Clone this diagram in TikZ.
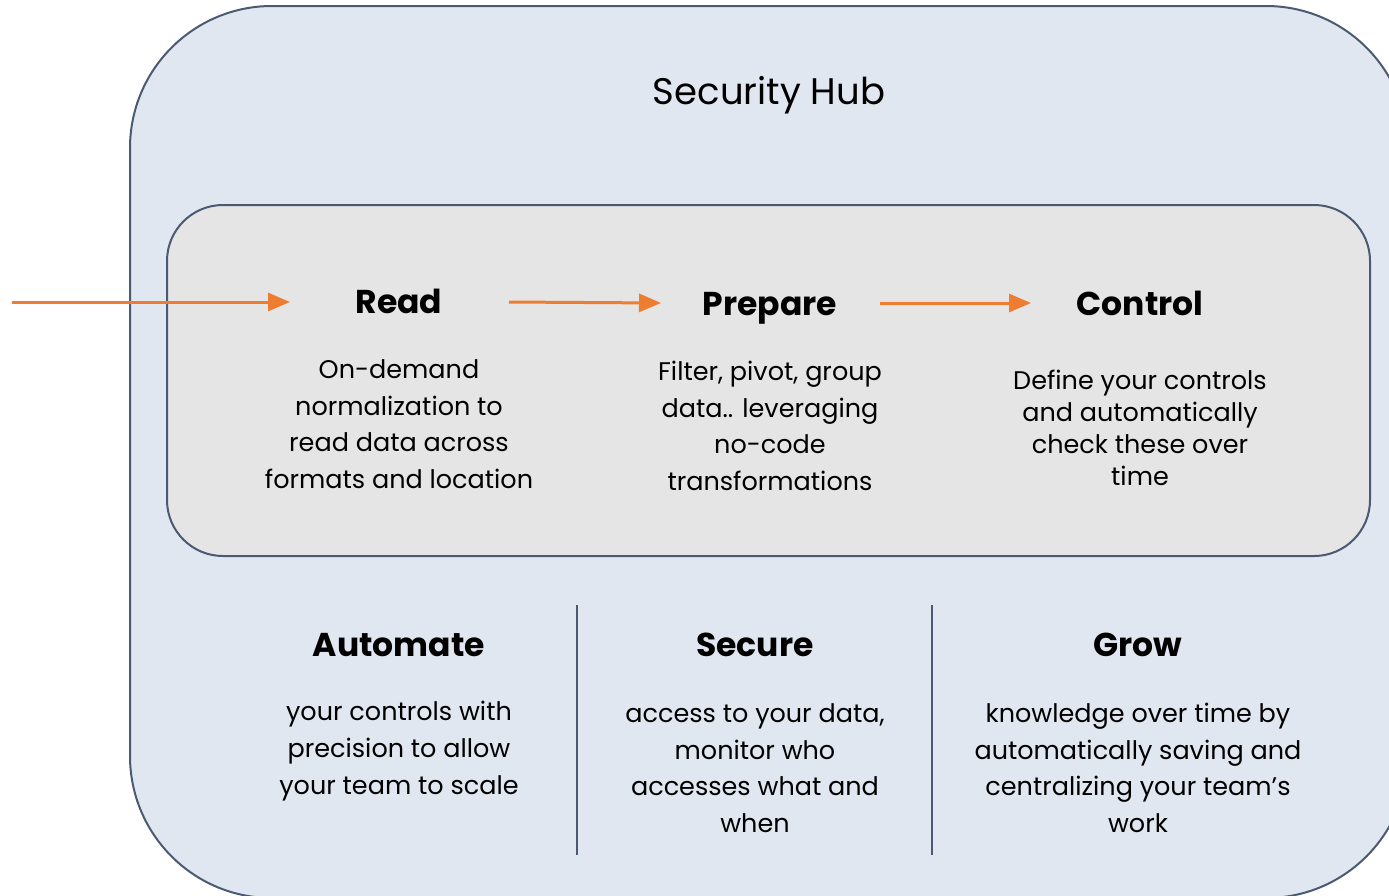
\documentclass[tikz,border=0pt]{standalone}
\usepackage{fontspec}
\setmainfont{Poppins}
\usetikzlibrary{arrows.meta}
\definecolor{hubfill}{HTML}{E1E7F0}
\definecolor{hubline}{HTML}{4A5A72}
\definecolor{innerfill}{HTML}{E5E5E5}
\definecolor{flowor}{HTML}{EE7D31}
\tikzset{
  hubbox/.style={draw=hubline, line width=2pt, fill=hubfill},
  innerbox/.style={draw=hubline, line width=2pt, fill=innerfill},
  sepline/.style={draw=hubline, line width=2pt},
  flow/.style={draw=flowor, line width=3pt, -{Triangle[length=22pt,width=18pt]}},
  head/.style={font=\fontsize{33}{38}\selectfont\bfseries, inner sep=0pt, anchor=base},
  body/.style={font=\fontsize{25.5}{36.6}\selectfont, align=center, inner sep=0pt},
  bodytight/.style={font=\fontsize{25.5}{32}\selectfont, align=center, inner sep=0pt},
  title/.style={font=\fontsize{37}{42}\selectfont, inner sep=0pt, anchor=base}
}
\begin{document}
\begin{tikzpicture}[x=1pt,y=-1pt]
\useasboundingbox (0,0) rectangle (1389,895);
\begin{scope}
\clip (0,0) rectangle (1389,895);
\draw[hubbox, rounded corners=142pt] (130,6) rectangle (1408,898);
\end{scope}
\draw[innerbox, rounded corners=56pt] (167,205) rectangle (1370,556);
\node[title] (hub) at (769,104) {Security Hub};

\node[head] (read) at (399,313) {Read};
\node[head] (prep) at (770,315) {Prepare};
\node[head] (ctrl) at (1140,315) {Control};

\node[body] (readb) at (399,424) {On-demand\\normalization to\\read data across\\formats and location};
\node[body] (prepb) at (770,426) {Filter, pivot, group\\data.. leveraging\\no-code\\transformations};
\node[bodytight] (ctrlb) at (1140,428) {Define your controls\\and automatically\\check these over\\time};

\coordinate (a0) at (12,302);
\coordinate (a1) at (290,302);
\coordinate (b0) at (509,302);
\coordinate (b1) at (661,303);
\coordinate (c0) at (880,303);
\coordinate (c1) at (1031,303);
\draw[flow] (a0) -- (a1);
\draw[flow] (b0) -- (b1);
\draw[flow] (c0) -- (c1);

\node[head] (auto) at (399,656) {Automate};
\node[head] (sec) at (755,656) {Secure};
\node[head] (grow) at (1138,656) {Grow};

\node[body] (autob) at (399,751) {your controls with\\precision to allow\\your team to scale};
\node[body] (secb) at (755,768) {access to your data,\\monitor who\\accesses what and\\when};
\node[body] (growb) at (1138,768) {knowledge over time by\\automatically saving and\\centralizing your team’s\\work};

\coordinate (s1t) at (577,605);
\coordinate (s1b) at (577,855);
\coordinate (s2t) at (932,605);
\coordinate (s2b) at (932,855);
\draw[sepline] (s1t) -- (s1b);
\draw[sepline] (s2t) -- (s2b);
\end{tikzpicture}
\end{document}
